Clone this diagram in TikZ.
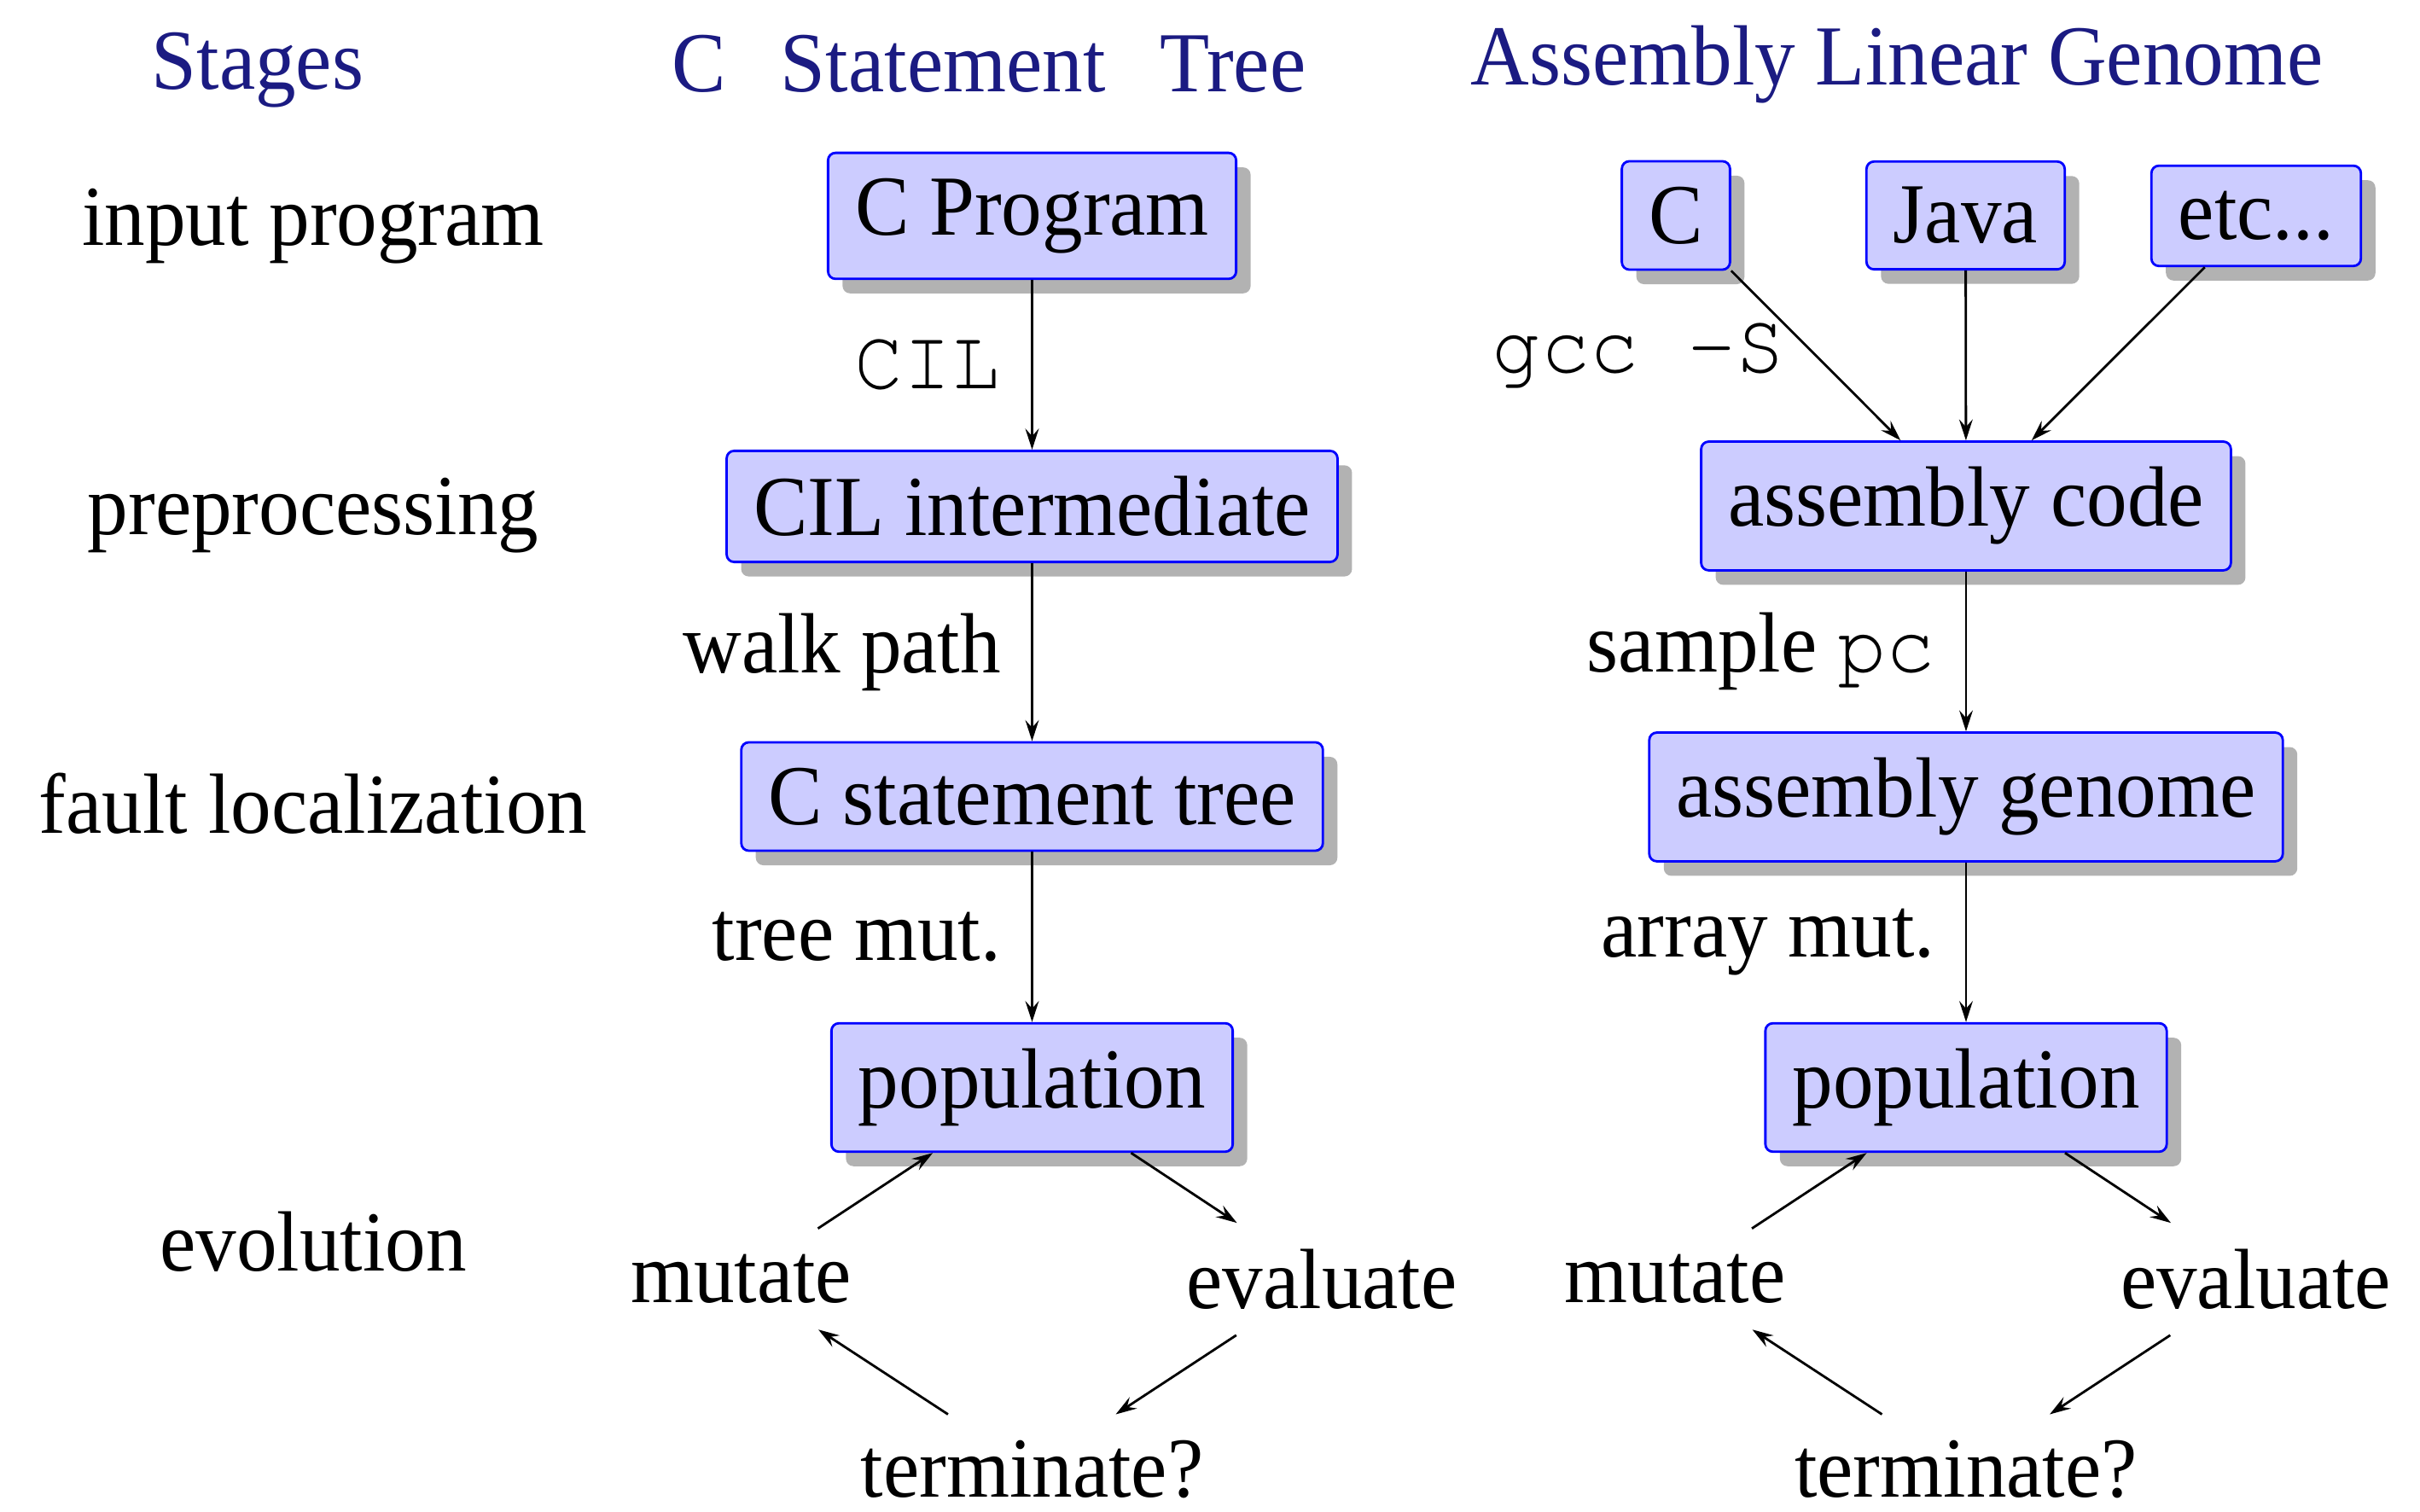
\documentclass[tikz,border=0pt]{standalone}
\usepackage{fontspec}
\setmainfont{Liberation Serif}[FakeStretch=0.95]
\setmonofont{TeX Gyre Cursor}[FakeStretch=0.95]
\usepackage{tikz}
\usetikzlibrary{arrows.meta, shadows}
\definecolor{headblue}{RGB}{27,27,130}
\tikzset{>={Stealth[length=7pt,width=4.5pt,inset=2.5pt]}}
\tikzset{
  every node/.style={font=\fontsize{28.5}{34}\selectfont, inner xsep=9pt, inner ysep=8.5pt},
  codebox/.style={draw=blue, thick, fill=blue!20, rounded corners=2.5pt,
    drop shadow={shadow xshift=0.17cm, shadow yshift=-0.17cm, fill=black!30, opacity=1}},
  headtext/.style={text=headblue, anchor=base},
  stagetext/.style={anchor=base},
  flow/.style={->, thick}
}

\begin{document}
\begin{tikzpicture}
    \useasboundingbox (0, 0) rectangle (28.36, 17.72);
    \node[headtext] (stagehead) at (3.02, 16.67) {Stages};
    \node[headtext] (treehead) at (11.59, 16.64) {C\hspace{0.4em} Statement\hspace{0.4em} Tree};
    \node[headtext] (asmhead) at (22.23, 16.72) {Assembly Linear Genome};
    \node[stagetext] (input) at (3.67, 14.84) {input program};
    \node[stagetext] (prep) at (3.67, 11.45) {preprocessing};
    \node[stagetext] (fault) at (3.67, 7.95) {fault localization};
    \node[stagetext] (evo) at (3.67, 2.82) {evolution};
    \node[codebox] (cprog) at (12.095, 15.19) {C Program};
    \node[codebox] (cil) at (12.095, 11.785) {CIL intermediate};
    \node[codebox] (stmt) at (12.095, 8.385) {C statement tree};
    \node[codebox] (popl) at (12.095, 4.975) {population};
    \node (mutl) at (8.685, 2.73) {mutate};
    \node (evall) at (15.49, 2.73) {evaluate};
    \node (terml) at (12.095, 0.5) {terminate?};
    \draw[flow] (cprog) -- node[left=1pt] {\texttt{CIL}} (cil);
    \draw[flow] (cil) -- node[left=1pt] {walk path} (stmt);
    \draw[flow] (stmt) -- node[left=1pt] {tree mut.} (popl);
    \draw[flow] (mutl) -- (popl);
    \draw[flow] (popl) -- (evall);
    \draw[flow] (evall) -- (terml);
    \draw[flow] (terml) -- (mutl);
    \node[codebox] (csrc) at (19.64, 15.195) {C};
    \node[codebox] (java) at (23.035, 15.195) {Java};
    \node[codebox] (etc) at (26.44, 15.19) {etc...};
    \node[codebox] (asm) at (23.04, 11.79) {assembly code};
    \node[codebox] (genome) at (23.04, 8.38) {assembly genome};
    \node[codebox] (popr) at (23.04, 4.975) {population};
    \node (mutr) at (19.63, 2.73) {mutate};
    \node (evalr) at (26.435, 2.73) {evaluate};
    \node (termr) at (23.04, 0.5) {terminate?};
    \draw[flow] (csrc) -- node[left=1pt] {\texttt{gcc -S}} (asm);
    \draw[flow] (java) -- (asm);
    \draw[flow] (etc) -- (asm);
    \draw[flow] (asm) -- node[left=1pt] {sample \texttt{pc}} (genome);
    \draw[flow] (genome) -- node[left=1pt] {array mut.} (popr);
    \draw[flow] (mutr) -- (popr);
    \draw[flow] (popr) -- (evalr);
    \draw[flow] (evalr) -- (termr);
    \draw[flow] (termr) -- (mutr);
\end{tikzpicture}
\end{document}
